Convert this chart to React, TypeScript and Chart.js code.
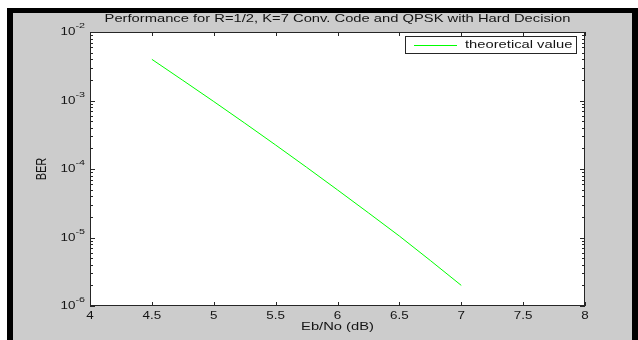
import React, { useEffect, useRef } from "react";
import { Chart, registerables } from "chart.js";

Chart.register(...registerables);

const titleText = "Performance for R=1/2, K=7 Conv. Code and QPSK with Hard Decision";
const xLabel = "Eb/No (dB)";
const yLabel = "BER";
const seriesName = "theoretical value";

const ebno = [4.5, 4.75, 5, 5.25, 5.5, 5.75, 6, 6.25, 6.5, 6.75, 7];
const ber = [3.99e-3, 1.97e-3, 9.66e-4, 4.68e-4, 2.24e-4, 1.06e-4, 4.95e-5, 2.29e-5, 1.05e-5, 4.62e-6, 2.0e-6];

const xTicks = [4, 4.5, 5, 5.5, 6, 6.5, 7, 7.5, 8];
const xTickLabels = ["4", "4.5", "5", "5.5", "6", "6.5", "7", "7.5", "8"];
const yDecades = [1e-2, 1e-3, 1e-4, 1e-5, 1e-6];
const yExpLabels = ["-2", "-3", "-4", "-5", "-6"];

const SX = 1.34;
const FF = '"Liberation Sans", Arial, sans-serif';
const TXT = "#141414";

function stretched(ctx: CanvasRenderingContext2D, s: string, x: number, y: number, align: CanvasTextAlign, font: string) {
  ctx.save();
  ctx.font = font;
  ctx.fillStyle = TXT;
  ctx.textBaseline = "middle";
  ctx.textAlign = align;
  ctx.translate(x, y);
  ctx.scale(SX, 1);
  ctx.fillText(s, 0, 0);
  ctx.restore();
}

const matlabPlugin = {
  id: "matlabAxes",
  beforeDatasetsDraw(chart: any) {
    const { ctx, chartArea: a } = chart;
    ctx.save();
    ctx.fillStyle = "#ffffff";
    ctx.fillRect(a.left, a.top, a.right - a.left, a.bottom - a.top);
    ctx.restore();
  },
  afterDraw(chart: any) {
    const { ctx, chartArea: a } = chart;
    const xs = chart.scales.x;
    const ys = chart.scales.y;
    ctx.save();
    ctx.strokeStyle = "#262626";
    ctx.lineWidth = 1;
    ctx.strokeRect(Math.round(a.left) + 0.5, Math.round(a.top) + 0.5, Math.round(a.right - a.left) - 1, Math.round(a.bottom - a.top) - 1);
    ctx.beginPath();
    xTicks.forEach((v) => {
      const px = Math.round(xs.getPixelForValue(v)) + 0.5;
      ctx.moveTo(px, a.bottom);
      ctx.lineTo(px, a.bottom - 4);
      ctx.moveTo(px, a.top);
      ctx.lineTo(px, a.top + 4);
    });
    yDecades.forEach((d, i) => {
      const py = Math.round(ys.getPixelForValue(d)) + 0.5;
      ctx.moveTo(a.left, py);
      ctx.lineTo(a.left + 5, py);
      ctx.moveTo(a.right, py);
      ctx.lineTo(a.right - 5, py);
      if (i < yDecades.length - 1) {
        const lower = yDecades[i + 1];
        for (let k = 2; k <= 9; k++) {
          const pm = Math.round(ys.getPixelForValue(k * lower)) + 0.5;
          ctx.moveTo(a.left, pm);
          ctx.lineTo(a.left + 3, pm);
          ctx.moveTo(a.right, pm);
          ctx.lineTo(a.right - 3, pm);
        }
      }
    });
    ctx.stroke();

    xTicks.forEach((v, i) => {
      stretched(ctx, xTickLabels[i], xs.getPixelForValue(v), a.bottom + 10, "center", `10px ${FF}`);
    });
    yDecades.forEach((d, i) => {
      const py = ys.getPixelForValue(d);
      const right = a.left - 5;
      ctx.font = `8px ${FF}`;
      const w = ctx.measureText(yExpLabels[i]).width * SX;
      stretched(ctx, yExpLabels[i], right, py - 6, "right", `8px ${FF}`);
      stretched(ctx, "10", right - w, py + 0.5, "right", `10px ${FF}`);
    });

    stretched(ctx, titleText, (a.left + a.right) / 2, a.top - 13.5, "center", `11px ${FF}`);
    stretched(ctx, xLabel, (a.left + a.right) / 2, a.bottom + 21, "center", `11px ${FF}`);
    ctx.save();
    ctx.font = `11px ${FF}`;
    ctx.fillStyle = TXT;
    ctx.textAlign = "center";
    ctx.textBaseline = "middle";
    ctx.translate(a.left - 48, (a.top + a.bottom) / 2);
    ctx.rotate(-Math.PI / 2);
    ctx.scale(1, SX);
    ctx.fillText(yLabel, 0, 0);
    ctx.restore();

    const lx = 405, ly = 36, lw = 172, lh = 18;
    ctx.fillStyle = "#ffffff";
    ctx.fillRect(lx, ly, lw, lh);
    ctx.strokeStyle = "#262626";
    ctx.strokeRect(lx + 0.5, ly + 0.5, lw - 1, lh - 1);
    ctx.strokeStyle = "#00ff00";
    ctx.beginPath();
    ctx.moveTo(414, ly + 9.5);
    ctx.lineTo(457, ly + 9.5);
    ctx.stroke();
    stretched(ctx, seriesName, 465, ly + 9, "left", `11px ${FF}`);
    ctx.restore();
  },
};

export default function App() {
  const ref = useRef<HTMLCanvasElement | null>(null);
  useEffect(() => {
    document.body.style.margin = "0";
    const canvas = ref.current!;
    const chart = new Chart(canvas, {
      type: "line",
      data: {
        datasets: [
          {
            label: seriesName,
            data: ebno.map((x, i) => ({ x, y: ber[i] })),
            borderColor: "#00ff00",
            backgroundColor: "#00ff00",
            borderWidth: 1,
            pointRadius: 0,
            tension: 0,
          },
        ],
      },
      options: {
        responsive: false,
        animation: false,
        devicePixelRatio: 1,
        layout: { padding: { left: 90, right: 53, top: 32, bottom: 34 } },
        plugins: { legend: { display: false }, tooltip: { enabled: false }, title: { display: false } },
        scales: {
          x: { type: "linear", min: 4, max: 8, display: false },
          y: { type: "logarithmic", min: 1e-6, max: 1e-2, display: false },
        },
      },
      plugins: [matlabPlugin],
    });
    return () => chart.destroy();
  }, []);

  return (
    <div style={{ position: "absolute", left: 0, top: 0, width: 638, height: 340, background: "#ffffff", overflow: "hidden" }}>
      <div style={{ position: "absolute", left: 7, top: 8, width: 631, height: 332, background: "#000000" }} />
      <div style={{ position: "absolute", left: 13, top: 13, width: 619, height: 327, background: "#cccccc" }} />
      <canvas ref={ref} width={638} height={340} style={{ position: "absolute", left: 0, top: 0, width: 638, height: 340 }} />
    </div>
  );
}
